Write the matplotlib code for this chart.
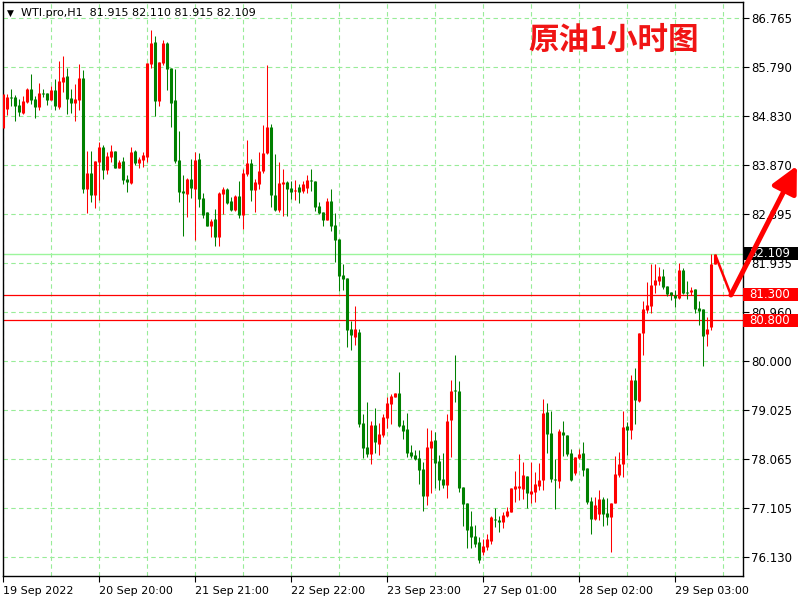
import matplotlib
matplotlib.use("Agg")
import matplotlib.pyplot as plt
import numpy as np
from matplotlib.transforms import blended_transform_factory
from matplotlib.patches import Rectangle

symbol = "WTI.pro,H1"
title = "原油1小时图"

# O, H, L, C per hourly candle
opens = [84.59, 84.96, 85.21, 85.21, 85.05, 84.89, 85.11, 85.36, 85.17, 85.00,
         85.29, 85.29, 85.15, 85.34, 85.01, 85.51, 85.62, 85.19, 85.09, 85.15,
         85.58, 83.39, 83.71, 83.27, 83.93, 84.22, 83.77, 84.03, 84.14, 83.81,
         83.94, 83.59, 83.50, 84.14, 83.91, 83.96, 84.03, 85.85, 86.30, 85.13,
         85.88, 86.28, 85.78, 85.15, 83.96, 83.36, 83.30, 83.59, 83.40, 83.98,
         83.22, 82.94, 82.67, 82.79, 82.45, 83.30, 83.40, 83.16, 82.98, 83.26,
         82.88, 83.69, 83.91, 83.38, 83.48, 83.75, 84.10, 84.61, 83.28, 82.98,
         83.48, 83.52, 83.42, 83.36, 83.44, 83.35, 83.42, 83.57, 83.55, 83.06,
         82.94, 82.78, 83.15, 82.68, 82.40, 81.69, 81.64, 80.63, 80.48, 80.57,
         78.77, 78.31, 78.16, 78.73, 78.36, 78.54, 78.88, 79.14, 79.29, 79.37,
         78.73, 78.66, 78.20, 78.14, 78.08, 77.87, 77.34, 78.29, 78.44, 78.02,
         77.67, 77.55, 78.83, 79.42, 79.41, 77.52, 77.20, 76.75, 76.55, 76.43,
         76.23, 76.33, 76.45, 76.88, 76.86, 76.83, 76.94, 77.02, 77.48, 77.50,
         77.48, 77.73, 77.38, 77.42, 77.54, 77.64, 79.00, 78.58, 77.67, 77.62,
         78.60, 78.54, 78.18, 77.79, 78.09, 78.18, 77.89, 77.23, 76.88, 76.98,
         77.27, 77.00, 76.91, 77.20, 77.75, 77.96, 78.71, 78.64, 79.62, 79.21,
         80.54, 81.00, 81.09, 81.50, 81.58, 81.67, 81.48, 81.35, 81.30, 81.25,
         81.79, 81.36, 81.35, 81.42, 81.04, 81.02, 80.53, 80.66, 81.915]
highs = [85.27, 85.27, 85.36, 85.25, 85.17, 85.23, 85.38, 85.66, 85.23, 85.48,
         85.36, 85.29, 85.43, 85.56, 85.92, 86.02, 85.78, 85.36, 85.46, 85.86,
         85.74, 84.14, 84.14, 83.94, 84.32, 84.26, 84.12, 84.26, 84.14, 83.96,
         84.02, 83.67, 84.22, 84.16, 84.02, 84.12, 85.88, 86.53, 86.40, 85.90,
         86.33, 86.30, 85.78, 85.76, 84.54, 83.67, 83.61, 83.98, 84.12, 84.10,
         83.32, 82.94, 82.79, 83.00, 83.34, 83.44, 83.42, 83.24, 83.28, 83.54,
         83.79, 84.36, 83.98, 83.59, 84.12, 84.65, 85.84, 84.67, 84.08, 83.92,
         83.79, 83.55, 83.54, 83.57, 83.49, 83.55, 83.67, 83.79, 83.55, 83.14,
         82.94, 83.22, 83.39, 82.92, 82.40, 81.91, 81.64, 80.79, 81.09, 80.62,
         78.95, 79.19, 78.81, 79.06, 78.77, 78.95, 79.29, 79.35, 79.36, 79.78,
         78.83, 78.97, 78.34, 78.24, 78.24, 78.00, 78.68, 78.64, 78.60, 78.14,
         78.18, 78.95, 79.62, 80.12, 79.61, 77.52, 77.20, 77.04, 76.77, 76.53,
         76.49, 76.58, 76.93, 77.09, 76.94, 77.02, 77.12, 77.49, 77.83, 78.16,
         78.00, 77.73, 78.00, 77.81, 77.98, 79.24, 79.17, 79.02, 78.06, 78.66,
         78.81, 78.54, 78.26, 78.10, 78.26, 78.40, 77.89, 77.32, 77.32, 77.45,
         77.32, 77.30, 77.20, 78.12, 78.20, 79.02, 78.79, 79.72, 79.86, 80.55,
         81.18, 81.55, 81.92, 81.92, 81.86, 81.81, 81.48, 81.36, 81.40, 81.94,
         81.83, 81.58, 81.46, 81.42, 81.18, 81.02, 80.86, 82.11, 82.110]
lows = [84.57, 84.85, 85.03, 84.73, 84.83, 84.87, 85.09, 85.07, 84.80, 84.95,
        85.21, 85.05, 85.14, 84.95, 84.97, 85.31, 84.88, 84.89, 84.74, 84.94,
        83.32, 82.92, 83.14, 83.02, 83.18, 83.59, 83.69, 83.92, 83.81, 83.80,
        83.48, 83.34, 83.49, 83.86, 83.81, 83.83, 83.93, 85.78, 84.84, 85.03,
        85.84, 85.34, 84.62, 83.91, 83.14, 82.47, 82.84, 83.22, 82.39, 83.04,
        82.81, 82.67, 82.44, 82.27, 82.27, 82.90, 83.10, 82.96, 82.96, 82.81,
        82.61, 83.65, 83.16, 82.94, 83.40, 83.71, 84.09, 83.04, 82.96, 82.94,
        82.86, 82.86, 83.20, 83.18, 83.12, 83.31, 83.32, 83.35, 82.96, 82.89,
        82.67, 82.77, 82.57, 81.96, 81.38, 81.40, 80.28, 80.21, 80.32, 78.70,
        78.08, 78.11, 77.97, 78.18, 78.14, 78.50, 78.68, 78.75, 79.29, 78.70,
        78.46, 78.11, 78.09, 78.04, 77.58, 77.04, 77.16, 77.39, 77.49, 77.45,
        77.49, 77.30, 78.11, 79.19, 77.42, 76.75, 76.31, 76.31, 76.33, 76.02,
        76.17, 76.27, 76.39, 76.73, 76.63, 76.71, 76.91, 77.02, 77.22, 77.26,
        77.28, 77.10, 77.20, 77.22, 77.45, 77.45, 78.19, 77.60, 77.08, 77.49,
        78.12, 78.13, 77.62, 77.75, 78.06, 77.73, 77.18, 76.59, 76.86, 76.86,
        76.75, 76.76, 76.23, 77.20, 77.71, 77.71, 78.14, 78.46, 78.75, 79.19,
        80.12, 80.95, 80.95, 81.33, 81.50, 81.42, 81.27, 81.20, 81.07, 81.23,
        81.31, 81.23, 81.30, 80.95, 80.71, 79.90, 80.29, 80.61, 81.915]
closes = [85.27, 85.21, 85.19, 85.03, 84.91, 85.13, 85.36, 85.15, 85.01, 85.29,
          85.27, 85.15, 85.34, 85.03, 85.52, 85.60, 85.17, 85.09, 85.17, 85.58,
          83.40, 83.71, 83.27, 83.94, 84.22, 83.77, 84.04, 84.14, 83.81, 83.92,
          83.57, 83.52, 84.12, 83.91, 83.98, 84.06, 85.88, 86.28, 85.13, 85.90,
          86.28, 85.76, 85.09, 83.95, 83.34, 83.32, 83.59, 83.42, 83.96, 83.20,
          82.88, 82.67, 82.75, 82.45, 83.32, 83.40, 83.12, 82.98, 83.26, 82.88,
          83.71, 83.91, 83.38, 83.52, 83.75, 84.10, 84.61, 83.28, 82.98, 83.50,
          83.52, 83.40, 83.34, 83.37, 83.33, 83.49, 83.57, 83.54, 83.04, 82.92,
          82.78, 83.15, 82.67, 82.39, 81.68, 81.62, 80.61, 80.51, 80.63, 78.75,
          78.29, 78.16, 78.73, 78.39, 78.56, 78.90, 79.17, 79.31, 79.36, 78.71,
          78.62, 78.19, 78.12, 78.06, 77.85, 77.34, 78.30, 78.42, 77.99, 77.65,
          77.55, 78.82, 79.41, 79.41, 77.50, 77.18, 76.66, 76.53, 76.39, 76.07,
          76.35, 76.49, 76.91, 76.86, 76.83, 76.95, 77.04, 77.49, 77.54, 77.54,
          77.75, 77.40, 77.44, 77.57, 77.65, 78.98, 78.56, 77.66, 77.64, 78.62,
          78.54, 78.17, 77.64, 78.10, 78.16, 77.85, 77.21, 76.87, 77.16, 77.27,
          76.98, 76.91, 77.19, 77.77, 77.97, 78.69, 78.64, 79.62, 79.23, 80.54,
          81.02, 81.10, 81.50, 81.60, 81.67, 81.46, 81.32, 81.30, 81.25, 81.79,
          81.33, 81.33, 81.40, 81.02, 80.99, 80.49, 80.63, 81.915, 82.109]

ytick_values = [86.765, 85.790, 84.830, 83.870, 82.895, 81.935,
                80.960, 80.000, 79.025, 78.065, 77.105, 76.130]
ytick_labels = ["86.765", "85.790", "84.830", "83.870", "82.895", "81.935",
                "80.960", "80.000", "79.025", "78.065", "77.105", "76.130"]
xtick_index = [0, 24, 48, 72, 96, 120, 144, 168]
xtick_labels = ["19 Sep 2022", "20 Sep 20:00", "21 Sep 21:00", "22 Sep 22:00",
                "23 Sep 23:00", "27 Sep 01:00", "28 Sep 02:00", "29 Sep 03:00"]
bid_price = 82.109
level_prices = [81.300, 80.800]
level_labels = ["81.300", "80.800"]
arrow_points = [(178.2, 82.05), (181.9, 81.30), (198.4, 83.85)]

UP = "#ff0000"
DOWN = "#008000"
GRID = "#98ec98"

o = np.array(opens); h = np.array(highs); l = np.array(lows); c = np.array(closes)
idx = np.arange(len(o))
cols = [UP if cc >= oo else DOWN for oo, cc in zip(o, c)]

fig = plt.figure(figsize=(8, 6), dpi=100)
fig.patch.set_facecolor("white")
ax = fig.add_axes([3 / 800, 24 / 600, 740 / 800, 574 / 600])
ax.set_xlim(-0.075, 184.925)
ax.set_ylim(75.755, 87.0807)

# grid
ax.set_yticks(ytick_values)
ax.set_yticklabels(ytick_labels)
ax.set_xticks(xtick_index)
ax.set_xticklabels(xtick_labels, ha="left")
ax.set_xticks(np.arange(12, 185, 12), minor=True)
ax.grid(which="both", axis="x", color=GRID, linestyle=(0, (4, 3)), linewidth=0.8, zorder=0)
ax.grid(which="major", axis="y", color=GRID, linestyle=(0, (4, 3)), linewidth=0.8, zorder=0)
ax.set_axisbelow(True)

# levels
ax.axhline(bid_price, color="#9cf59c", lw=1.0, zorder=1.5)
for lv in level_prices:
    ax.axhline(lv, color="#ff0000", lw=0.9, zorder=1.6)

# candles: wick 1 px, body 3 px
body_lo = np.minimum(o, c)
body_hi = np.maximum(np.maximum(o, c), body_lo + 0.02)
ax.vlines(idx, l, h, colors=cols, linewidth=0.75, zorder=2)
ax.vlines(idx, body_lo, body_hi, colors=cols, linewidth=2.2, zorder=3)

# axes style
ax.yaxis.tick_right()
ax.tick_params(axis="y", which="major", direction="out", length=4, width=0.8,
               pad=2, labelsize=8.5, colors="black")
ax.tick_params(axis="x", which="major", direction="out", length=4, width=0.8,
               pad=3, labelsize=8, colors="black")
ax.tick_params(axis="x", which="minor", length=0)
for sp in ax.spines.values():
    sp.set_color("black")
    sp.set_linewidth(1.0)

# price labels at right
tr = blended_transform_factory(ax.transAxes, ax.transData)
box_h = 13 * (87.0807 - 75.755) / 574
box_w = 55 / 740
def price_tag(price, text, fc):
    ax.add_patch(Rectangle((1.0, price - box_h / 2), box_w, box_h, transform=tr,
                           facecolor=fc, edgecolor="none", clip_on=False, zorder=8))
    ax.text(1.0 + 6 / 740, price, text, transform=tr, ha="left", va="center",
            color="white", fontsize=8.5, clip_on=False, zorder=9)

price_tag(bid_price, f"{bid_price:.3f}", "black")
for lv, lab in zip(level_prices, level_labels):
    price_tag(lv, lab, "#ff0000")

# arrow annotation
(x0, y0), (x1, y1), (x2, y2) = arrow_points
ax.plot([x0, x1], [y0, y1], color="#ff0000", lw=1.8, clip_on=False,
        solid_capstyle="round", zorder=12)
ax.annotate("", xy=(x2, y2), xytext=(x1, y1),
            arrowprops=dict(arrowstyle="-|>,head_length=0.8,head_width=0.4",
                            lw=3.6, color="#ff0000", mutation_scale=20,
                            shrinkA=0, shrinkB=0),
            annotation_clip=False, zorder=12)

# header and title
fig.text(7 / 800, 1 - 13 / 600, "\u25BC", fontsize=6.5, ha="left", va="center",
         color="black")
fig.text(21 / 800, 1 - 13 / 600,
         f"{symbol}  {opens[-1]:.3f} {highs[-1]:.3f} {lows[-1]:.3f} {closes[-1]:.3f}",
         fontsize=8, ha="left", va="center", color="black")
fig.text(528 / 800, 1 - 40 / 600, title, fontsize=22, fontweight="bold",
         color="#f01414", ha="left", va="center",
         family=["Noto Sans CJK SC", "DejaVu Sans"])

fig.savefig("out.png", dpi=100, facecolor="white")
